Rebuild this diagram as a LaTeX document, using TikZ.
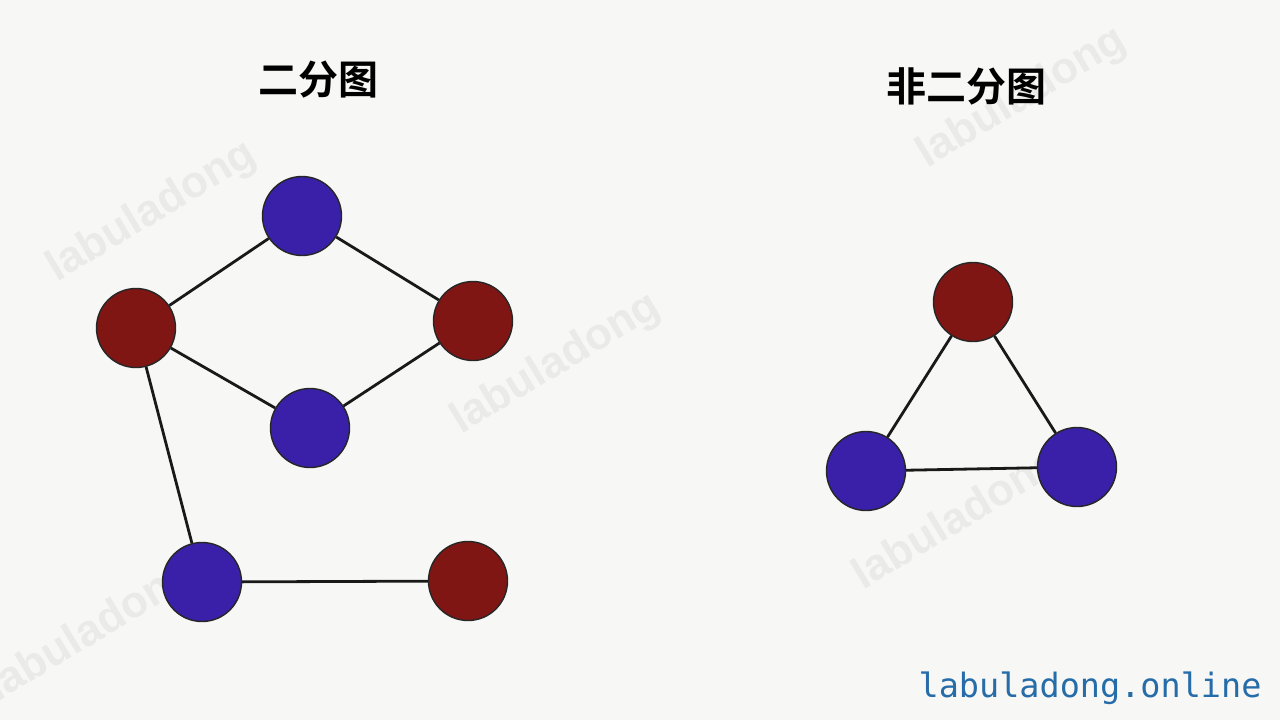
\documentclass[tikz,border=0pt]{standalone}
\usepackage{fontspec}
\newfontfamily\cjk{Noto Sans CJK SC}[BoldFont={Noto Sans CJK SC Bold}]
\newfontfamily\wmfont{Liberation Sans}
\newfontfamily\monofont{DejaVu Sans Mono}
\definecolor{bg}{RGB}{247,247,245}
\definecolor{nred}{RGB}{128,22,20}
\definecolor{nblue}{RGB}{58,32,168}
\definecolor{wm}{RGB}{234,234,232}
\definecolor{site}{RGB}{38,108,168}
\begin{document}
\begin{tikzpicture}[x=1pt,y=-1pt,
  vtx/.style={circle,draw=black!85,line width=1.4pt,minimum size=79pt,inner sep=0pt},
  redv/.style={vtx,fill=nred},
  bluev/.style={vtx,fill=nblue},
  edge/.style={line width=2.8pt,black!90},
  title/.style={font=\cjk\bfseries\fontsize{40}{46}\selectfont},
  wmark/.style={font=\wmfont\bfseries\fontsize{44}{50}\selectfont,text=wm,rotate=31}]
\fill[bg] (0,0) rectangle (1280,720);
\useasboundingbox (0,0) rectangle (1280,720);
% watermarks
\node[wmark] (w1) at (152,212) {labuladong};
\node[wmark] (w2) at (556,364) {labuladong};
\node[wmark] (w3) at (1022,98) {labuladong};
\node[wmark] (w4) at (958,520) {labuladong};
\node[wmark] (w5) at (92,632) {labuladong};
% titles
\node[title] (t1) at (318,80) {二分图};
\node[title] (t2) at (966,86) {非二分图};
% left graph
\node[bluev] (b1) at (302,216) {};
\node[redv] (r1) at (136,328) {};
\node[redv] (r2) at (473,321) {};
\node[bluev] (b2) at (310,428) {};
\node[bluev] (b3) at (202,582) {};
\node[redv] (r3) at (468,581) {};
\draw[edge] (r1) -- (b1);
\draw[edge] (b1) -- (r2);
\draw[edge] (r1) -- (b2);
\draw[edge] (b2) -- (r2);
\draw[edge] (r1) -- (b3);
\draw[edge] (b3) -- (r3);
% right graph
\node[redv] (r4) at (973,302) {};
\node[bluev] (b4) at (866,471) {};
\node[bluev] (b5) at (1077,467) {};
\draw[edge] (r4) -- (b4);
\draw[edge] (r4) -- (b5);
\draw[edge] (b4) -- (b5);
% site label
\node[font=\monofont\fontsize{33.5}{38}\selectfont,text=site,anchor=east] (site) at (1265,688) {labuladong.online};
\end{tikzpicture}
\end{document}
